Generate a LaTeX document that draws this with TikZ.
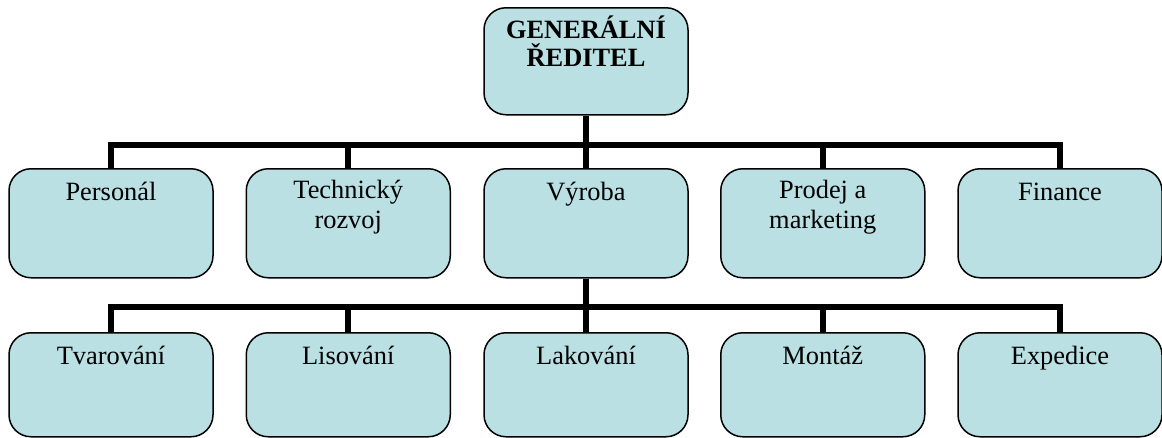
\documentclass[tikz,border=0pt]{standalone}
\usepackage{fontspec}
\setmainfont{Liberation Serif}
\usetikzlibrary{calc}
\definecolor{boxfill}{RGB}{186,224,228}
\tikzset{
  orgbox/.style={draw=black, line width=1.5pt, rounded corners=22pt, fill=boxfill,
    minimum width=204pt, inner sep=0pt, anchor=north},
  conn/.style={draw=black, line width=6pt},
  txt/.style={anchor=base, inner sep=0pt, font=\fontsize{26.4}{30}\selectfont},
  btxt/.style={txt, font=\fontsize{26.4}{30}\selectfont\bfseries}
}
\begin{document}
\begin{tikzpicture}[x=1pt,y=-1pt]
\useasboundingbox (0,0) rectangle (1162,437);

% top of the hierarchy
\node[orgbox, minimum height=107pt] (gr) at (586,7) {};

% first level
\node[orgbox, minimum height=109pt] (p1) at (111,168) {};
\node[orgbox, minimum height=109pt] (p2) at (348.25,168) {};
\node[orgbox, minimum height=109pt] (p3) at (586,168) {};
\node[orgbox, minimum height=109pt] (p4) at (822.75,168) {};
\node[orgbox, minimum height=109pt] (p5) at (1060,168) {};

% second level
\node[orgbox, minimum height=104pt] (q1) at (111,332) {};
\node[orgbox, minimum height=104pt] (q2) at (348.25,332) {};
\node[orgbox, minimum height=104pt] (q3) at (586,332) {};
\node[orgbox, minimum height=104pt] (q4) at (822.75,332) {};
\node[orgbox, minimum height=104pt] (q5) at (1060,332) {};

% connectors, first level
\draw[conn] (gr.south) -- (p3.north);
\draw[conn] (p1.north) -- ++(0,-23) -| (p5.north);
\draw[conn] (p2.north) -- ++(0,-23);
\draw[conn] (p4.north) -- ++(0,-23);

% connectors, second level
\draw[conn] (p3.south) -- (q3.north);
\draw[conn] (q1.north) -- ++(0,-25) -| (q5.north);
\draw[conn] (q2.north) -- ++(0,-25);
\draw[conn] (q4.north) -- ++(0,-25);

% labels
\node[btxt] (t0a) at ($(gr.north)+(0,31)$) {GENERÁLNÍ};
\node[btxt] (t0b) at ($(gr.north)+(0,59)$) {ŘEDITEL};

\node[txt] (t1) at ($(p1.north)+(0,32)$) {Personál};
\node[txt] (t2a) at ($(p2.north)+(0,30)$) {Technický};
\node[txt] (t2b) at ($(p2.north)+(0,60)$) {rozvoj};
\node[txt] (t3) at ($(p3.north)+(0,32)$) {Výroba};
\node[txt] (t4a) at ($(p4.north)+(0,30)$) {Prodej a};
\node[txt] (t4b) at ($(p4.north)+(0,60)$) {marketing};
\node[txt] (t5) at ($(p5.north)+(0,32)$) {Finance};

\node[txt] (u1) at ($(q1.north)+(0,32)$) {Tvarování};
\node[txt] (u2) at ($(q2.north)+(0,32)$) {Lisování};
\node[txt] (u3) at ($(q3.north)+(0,32)$) {Lakování};
\node[txt] (u4) at ($(q4.north)+(0,32)$) {Montáž};
\node[txt] (u5) at ($(q5.north)+(0,32)$) {Expedice};
\end{tikzpicture}
\end{document}
